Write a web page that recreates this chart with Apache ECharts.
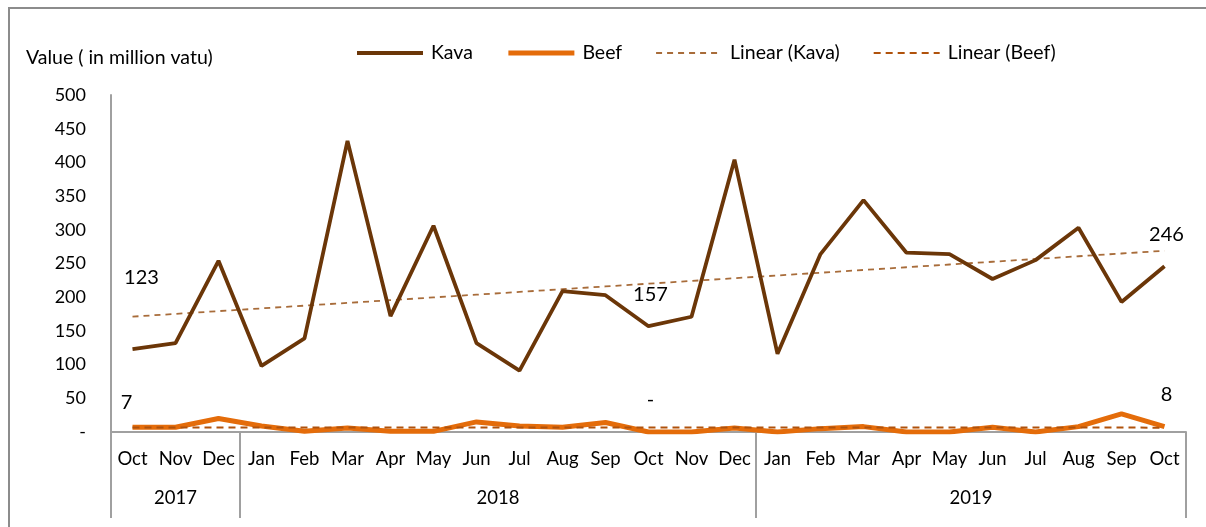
<!DOCTYPE html>
<html>
<head>
<meta charset="utf-8">
<script src="https://cdn.jsdelivr.net/npm/echarts@6/dist/echarts.min.js"></script>
<style>
  html, body { margin: 0; padding: 0; background: #fff; }
  #frame { position: absolute; left: 8px; top: 7px; width: 1198px; height: 520px;
           border-top: 2px solid #8c8c8c; border-left: 2px solid #8c8c8c; box-sizing: border-box; }
  #chart { position: absolute; left: 0; top: 0; width: 1206px; height: 527px; }
</style>
</head>
<body>
<div id="frame"></div>
<div id="chart"></div>
<script>
// months Oct 2017 .. Oct 2019
const months = ['Oct', 'Nov', 'Dec',
  'Jan', 'Feb', 'Mar', 'Apr', 'May', 'Jun', 'Jul', 'Aug', 'Sep', 'Oct', 'Nov', 'Dec',
  'Jan', 'Feb', 'Mar', 'Apr', 'May', 'Jun', 'Jul', 'Aug', 'Sep', 'Oct']
const years = ['2017', '2018', '2019']
const yearCenters = [1.5, 9, 20]
const yearBounds = [0, 3, 15, 25]

// values in million vatu
const kava = [123, 132, 254, 98, 139, 432, 172, 306, 132, 91, 209, 203, 157, 171, 404,
  116, 264, 344, 266, 264, 227, 255, 303, 193, 246]
const beef = [7, 7, 20, 9, 1, 6, 1, 1, 15, 9, 7, 14, 0, 0, 6,
  0, 5, 8, 0, 0, 7, 0, 8, 27, 8]

// least squares trend, like Excel's linear trendline
function trend(vals) {
  const n = vals.length
  let sx = 0, sy = 0, sxy = 0, sxx = 0
  vals.forEach((v, i) => { sx += i; sy += v; sxy += i * v; sxx += i * i })
  const b = (n * sxy - sx * sy) / (n * sxx - sx * sx)
  const a = (sy - b * sx) / n
  return vals.map((v, i) => +(a + b * i).toFixed(2))
}

const FONT = 'Lato, "Liberation Sans", sans-serif'
const AXIS_GRAY = '#a0a0a0'
const KAVA_C = '#6b3608'
const BEEF_C = '#e46c0a'
const LK_C = '#a86c3a'
const LB_C = '#b0520c'

// labelled points: index -> offset
const kavaLabels = { 0: [9, -56], 12: [2, -16], 24: [2, -16] }
const beefLabels = { 0: [-6, -9], 12: [2, -17], 24: [2, -17] }

function withLabels(vals, marks) {
  return vals.map((v, i) => {
    if (!(i in marks)) return v
    return {
      value: v,
      label: {
        show: true, position: 'top', distance: 5, offset: marks[i],
        color: '#000', fontSize: 20, fontFamily: FONT,
        formatter: p => (p.value === 0 ? '-' : String(p.value))
      }
    }
  })
}

const chart = echarts.init(document.getElementById('chart'))

const option = {
  animation: false,
  title: {
    text: 'Value ( in million vatu)',
    left: 21, top: 43,
    textStyle: { fontSize: 19.5, fontWeight: 'normal', color: '#000', fontFamily: FONT }
  },
  legend: {
    top: 38, left: 350,
    itemWidth: 66, itemHeight: 14, itemGap: 33,
    textStyle: { fontSize: 19.5, color: '#000', fontFamily: FONT, padding: [0, 0, 0, 3] },
    data: [
      { name: 'Kava', itemStyle: { opacity: 0 }, lineStyle: { width: 4, color: KAVA_C } },
      { name: 'Beef', itemStyle: { opacity: 0 }, lineStyle: { width: 5, color: BEEF_C } },
      { name: 'Linear (Kava)', itemStyle: { opacity: 0 }, lineStyle: { width: 1.8, color: LK_C, type: [6, 5] } },
      { name: 'Linear (Beef)', itemStyle: { opacity: 0 }, lineStyle: { width: 2, color: LB_C, type: [7, 5] } }
    ]
  },
  grid: { left: 111, right: 20, top: 95, bottom: 95 },
  xAxis: [
    {
      type: 'category',
      data: months,
      boundaryGap: true,
      axisLine: { lineStyle: { color: AXIS_GRAY, width: 2 } },
      axisTick: { show: false },
      axisLabel: { margin: 18, fontSize: 18.5, color: '#000', fontFamily: FONT, interval: 0 }
    },
    {
      type: 'value',
      position: 'bottom',
      min: 0, max: 25,
      axisLine: { show: false },
      splitLine: { show: false },
      axisTick: {
        show: true, length: 86, customValues: yearBounds,
        lineStyle: { color: AXIS_GRAY, width: 2 }
      },
      axisLabel: {
        margin: 57, fontSize: 18.5, color: '#000', fontFamily: FONT,
        customValues: yearCenters,
        formatter: v => years[yearCenters.indexOf(v)] || ''
      }
    }
  ],
  yAxis: {
    type: 'value',
    min: 0, max: 500, interval: 50,
    axisLine: { show: true, lineStyle: { color: AXIS_GRAY, width: 2 } },
    axisTick: { show: false },
    splitLine: { show: false },
    axisLabel: {
      margin: 25, fontSize: 18, color: '#000', fontFamily: FONT,
      formatter: v => (v === 0 ? '-' : v)
    }
  },
  series: [
    {
      name: 'Kava', type: 'line', xAxisIndex: 0,
      data: withLabels(kava, kavaLabels),
      symbol: 'circle', symbolSize: 1, showSymbol: true,
      color: KAVA_C,
      itemStyle: { color: 'rgba(0,0,0,0)' },
      lineStyle: { color: KAVA_C, width: 3.8 },
      z: 3
    },
    {
      name: 'Beef', type: 'line', xAxisIndex: 0,
      data: withLabels(beef, beefLabels),
      symbol: 'circle', symbolSize: 1, showSymbol: true,
      color: BEEF_C,
      itemStyle: { color: 'rgba(0,0,0,0)' },
      lineStyle: { color: BEEF_C, width: 5 },
      z: 3
    },
    {
      name: 'Linear (Kava)', type: 'line', xAxisIndex: 0,
      data: trend(kava),
      symbol: 'none', color: LK_C,
      lineStyle: { color: LK_C, width: 1.8, type: [6, 5] },
      z: 2
    },
    {
      name: 'Linear (Beef)', type: 'line', xAxisIndex: 0,
      data: trend(beef),
      symbol: 'none', color: LB_C,
      lineStyle: { color: LB_C, width: 2, type: [7, 5] },
      z: 4
    }
  ]
}

chart.setOption(option)
</script>
</body>
</html>
